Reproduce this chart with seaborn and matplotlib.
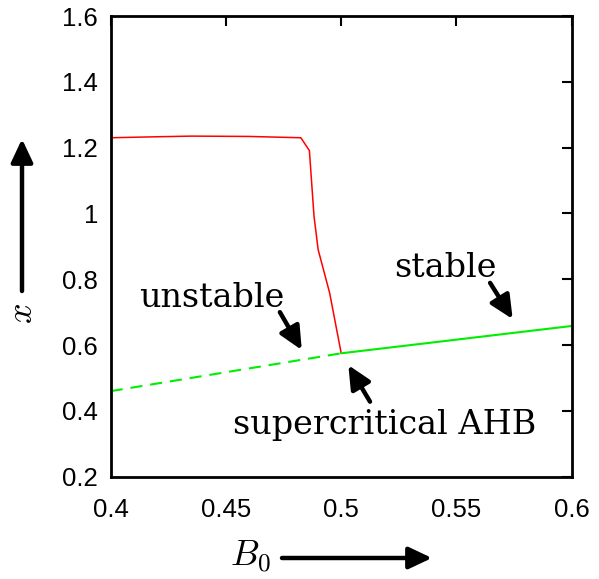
import numpy as np
import pandas as pd
import matplotlib
matplotlib.use('Agg')
import matplotlib.pyplot as plt
import seaborn as sns

# red branch (oscillation amplitude) and green equilibrium branch
b0_red = [0.40, 0.42, 0.435, 0.46, 0.4825, 0.4862, 0.4882, 0.4900, 0.4950, 0.5000]
x_red = [1.230, 1.233, 1.235, 1.234, 1.230, 1.191, 0.992, 0.890, 0.758, 0.575]
b0_unstable = [0.40, 0.50]
x_unstable = [0.460, 0.575]
b0_stable = [0.50, 0.60]
x_stable = [0.575, 0.658]

xticks = [0.4, 0.45, 0.5, 0.55, 0.6]
yticks = [0.2, 0.4, 0.6, 0.8, 1.0, 1.2, 1.4, 1.6]
xticklabels = ['0.4', '0.45', '0.5', '0.55', '0.6']
yticklabels = ['0.2', '0.4', '0.6', '0.8', '1', '1.2', '1.4', '1.6']

sns.set_theme(style='white')
plt.rcParams['font.family'] = ['Liberation Sans', 'DejaVu Sans']
plt.rcParams['mathtext.fontset'] = 'cm'
plt.rcParams['text.color'] = 'black'

W, H = 599, 579
fig = plt.figure(figsize=(W / 100, H / 100), dpi=100)
ax = fig.add_axes([110.7 / W, 1 - 476.7 / H, 461 / W, 460.7 / H])

sns.lineplot(x=b0_red, y=x_red, color='#ff0000', lw=1.1, ax=ax)
sns.lineplot(x=b0_unstable, y=x_unstable, color='#00ee00', lw=1.5,
             ax=ax).lines[-1].set_dashes([5.8, 3.8])
sns.lineplot(x=b0_stable, y=x_stable, color='#00ee00', lw=1.5, ax=ax)

ax.set_xlim(0.4, 0.6)
ax.set_ylim(0.2, 1.6)
ax.set_xticks(xticks)
ax.set_xticklabels(xticklabels)
ax.set_yticks(yticks)
ax.set_yticklabels(yticklabels)
ax.tick_params(direction='in', length=7, width=1.5, top=True, right=True,
               labelsize=18.5, colors='black', pad=9)
ax.tick_params(axis='x', pad=15)
for s in ax.spines.values():
    s.set_visible(True)
    s.set_linewidth(2)
    s.set_color('black')

serif = ['DejaVu Serif']
arrow = dict(arrowstyle='-|>,head_length=0.7,head_width=0.33', lw=3.2,
             color='black', mutation_scale=20, shrinkA=0, shrinkB=0)

ax.text(0.444, 0.743, 'unstable', family=serif, fontsize=24, ha='center', va='center')
ax.annotate('', xy=(0.4829, 0.585), xytext=(0.4734, 0.700), arrowprops=arrow)
ax.text(0.545, 0.834, 'stable', family=serif, fontsize=24, ha='center', va='center')
ax.annotate('', xy=(0.5744, 0.679), xytext=(0.5646, 0.789), arrowprops=arrow)
ax.text(0.519, 0.357, 'supercritical AHB', family=serif, fontsize=24,
        ha='center', va='center')
ax.annotate('', xy=(0.5031, 0.539), xytext=(0.5125, 0.428), arrowprops=arrow)

# axis labels with arrows
fig.text(22 / W, 1 - 313 / H, '$x$', fontsize=26, rotation=90,
         ha='center', va='center')
fig.add_artist(matplotlib.patches.FancyArrowPatch(
    (22 / W, 1 - 291 / H), (22 / W, 1 - 139 / H), transform=fig.transFigure,
    **arrow))
fig.text(250 / W, 1 - 557 / H, '$B_0$', fontsize=26, ha='center', va='center')
fig.add_artist(matplotlib.patches.FancyArrowPatch(
    (282 / W, 1 - 558 / H), (432 / W, 1 - 558 / H), transform=fig.transFigure,
    **arrow))

fig.savefig('out.png', dpi=100)
